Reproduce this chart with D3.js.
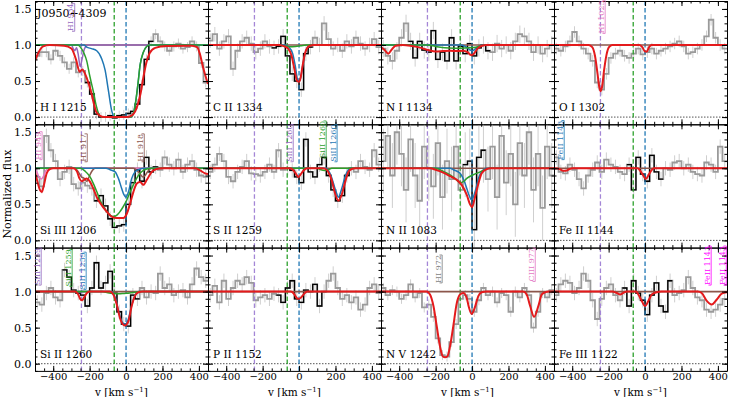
<!DOCTYPE html>
<html>
<head>
<meta charset="utf-8">
<script src="https://cdn.jsdelivr.net/npm/d3@7"></script>
<style>
  body { margin: 0; background: #fff; }
  svg { display: block; font-family: "DejaVu Serif", serif; }
</style>
</head>
<body>
<svg id="viz" width="729" height="397"></svg>
<script>
// DATA: velocity bin centres (km/s) shared by every panel
var velGrid = [-487.5, -462.5, -437.5, -412.5, -387.5, -362.5, -337.5, -312.5, -287.5, -262.5,
    -237.5, -212.5, -187.5, -162.5, -137.5, -112.5, -87.5, -62.5, -37.5, -12.5,
    12.5, 37.5, 62.5, 87.5, 112.5, 137.5, 162.5, 187.5, 212.5, 237.5,
    262.5, 287.5, 312.5, 337.5, 362.5, 387.5, 412.5, 437.5];
var binHalf = 12.5;

var ionLabels = ["H I 1215", "C II 1334", "N I 1134", "O I 1302",
    "Si III 1206", "S II 1259", "N II 1083", "Fe II 1144",
    "Si II 1260", "P II 1152", "N V 1242", "Fe III 1122"];

var xMajor = [-400, -200, 0, 200, 400];
var yMajor = [0, 0.5, 1.0, 1.5];

// component velocities (dashed markers)
var compVel = [-245, -65, 0];

// normalized flux per panel
var fluxHI1215 = [0.85,0.9,0.9,0.8,0.92,0.85,0.76,0.67,0.76,0.62, 0.64,0.48,0.32,0.04,0.0,0.0,0.02,-0.01,0.02,0.03,
    0.05,0.08,0.18,0.45,0.8,1.05,1.15,1.05,0.98,0.92, 0.98,1.02,0.95,0.97,1.05,0.98,0.75,0.48];
var fluxCII1334 = [1.06,1.15,0.95,1.05,1.12,0.67,0.92,1.05,1.1,1.02, 0.9,0.95,1.05,0.98,0.96,0.98,1.12,0.85,0.6,0.5,
    0.38,0.88,0.97,1.1,1.0,1.3,1.08,0.95,1.0,0.92, 1.05,0.98,1.1,1.02,0.95,1.0,1.08,0.97];
var fluxNI1134 = [0.95,0.85,0.78,0.92,1.1,1.3,1.05,0.82,1.05,0.93, 0.9,1.2,0.8,0.9,0.78,1.1,0.78,0.98,0.88,1.02,
    0.85,0.96,1.0,0.92,0.9,1.02,0.95,1.0,0.92,1.05, 1.15,1.12,1.05,0.9,1.0,0.88,0.95,1.0];
var fluxOI1302 = [0.95,0.92,0.98,1.05,1.18,1.05,0.95,0.88,0.78,0.48, 0.38,0.6,0.82,0.88,0.92,0.85,0.82,0.88,0.95,0.87,
    0.9,0.95,0.88,0.92,0.95,0.98,1.02,1.05,0.98,0.88, 0.9,0.95,1.0,1.12,1.35,1.1,1.0,0.95];
var fluxSiIII1206 = [0.88,0.75,1.45,1.25,1.1,0.85,0.95,1.02,0.78,0.72, 0.8,0.76,0.72,0.55,0.62,0.48,0.3,0.18,0.2,0.22,
    0.5,0.8,0.98,0.82,1.15,0.95,1.02,0.98,1.15,1.05, 1.0,1.12,0.95,1.05,1.1,0.98,0.9,0.88];
var fluxSII1259 = [0.95,1.05,1.2,1.1,0.88,0.82,0.95,1.02,1.1,0.93, 0.92,0.9,0.95,1.05,0.95,1.25,0.98,1.0,0.97,0.88,
    0.8,1.4,0.95,0.88,1.05,1.15,0.9,0.7,0.55,0.62, 0.9,1.0,0.95,1.1,1.02,0.98,1.25,1.05];
var fluxNII1083 = [1.1,1.45,0.9,1.5,1.2,0.7,1.4,0.9,0.55,1.3, 1.0,0.75,1.35,0.6,1.1,0.85,1.3,0.7,1.05,1.1,
    0.15,1.15,1.25,0.85,1.3,0.6,1.45,0.8,1.2,0.5, 1.35,0.9,1.5,0.7,1.2,0.45,1.3,0.9];
var fluxFeII1144 = [1.15,0.95,0.93,1.05,0.98,0.85,0.72,0.9,0.98,1.08, 0.95,1.12,1.05,1.02,0.95,0.92,1.05,0.7,1.15,0.92,
    0.82,1.18,0.95,0.85,1.0,0.98,1.08,1.1,1.0,1.05, 0.95,0.92,0.9,1.08,1.05,0.95,1.3,1.1];
var fluxSiII1260 = [0.85,0.82,0.98,1.05,0.92,0.88,1.3,1.2,1.02,0.98, 0.95,0.8,1.05,1.4,1.05,1.12,1.28,0.98,0.72,0.55,
    0.52,0.95,0.9,1.05,0.92,1.0,0.98,1.25,1.05,1.1, 0.95,1.0,1.02,0.92,1.1,1.32,1.2,1.15];
var fluxPII1152 = [0.95,1.08,0.85,1.15,0.9,1.05,1.15,1.1,1.2,1.12, 0.88,0.92,0.95,0.9,0.97,0.95,0.85,1.05,1.15,0.9,
    0.85,1.02,1.0,1.1,0.8,1.0,1.15,1.25,1.05,0.9, 0.95,0.85,0.92,0.75,0.82,1.05,1.1,0.98];
var fluxNV1242 = [1.05,0.95,1.02,1.0,0.9,0.95,1.1,0.92,0.98,0.78, 0.82,0.65,0.35,0.12,0.1,0.3,0.55,0.9,0.95,0.9,
    0.72,0.88,1.05,0.95,1.0,0.85,0.98,0.95,0.72,1.0, 0.92,1.05,0.95,0.5,0.72,0.98,0.92,1.02];
var fluxFeIII1122 = [0.95,1.1,1.15,1.12,0.98,1.05,1.25,1.15,0.88,0.62, 0.9,1.05,1.1,0.95,0.88,1.05,0.8,1.15,0.98,0.88,
    0.68,0.95,1.12,0.8,0.72,1.15,0.95,0.98,1.02,1.2, 1.05,0.92,0.88,0.75,0.72,0.75,0.82,0.9];

// typical 1-sigma error per panel
var errLevel = [0.07, 0.1, 0.12, 0.08, 0.1, 0.1, 0.45, 0.1, 0.1, 0.1, 0.07, 0.1];
// velocity window fitted (drawn black), null = none
var fitWindow = [[-225, 150], [-150, 75], [-350, 100], null, [-175, 175], [-75, 300],
    [-50, 75], [-100, 100], [-350, 75], [-125, 150], null, [-125, 150]];

var redHI1215 = [[-500,0.78],[-480,0.9],[-455,0.98],[-420,1.0],[-340,0.99],[-300,0.95],[-275,0.8],[-255,0.63],[-240,0.66],[-225,0.6],[-210,0.5],[-195,0.38],[-180,0.22],[-165,0.08],[-145,0.02],[-120,0.0],[0,0.0],[30,0.02],[50,0.08],[65,0.18],[80,0.33],[95,0.55],[112,0.76],[130,0.89],[160,0.96],[220,0.985],[360,0.99],[390,0.97],[405,0.88],[420,0.72],[435,0.58],[450,0.46]];
var redCII1334 = [[-500,1],[-110,1],[-80,0.98],[-60,0.95],[-42,0.86],[-25,0.66],[-10,0.5],[0,0.49],[8,0.54],[20,0.72],[32,0.88],[45,0.96],[60,0.99],[80,1],[450,1]];
var redNI1134 = [[-500,0.97],[-480,0.93],[-460,0.88],[-443,0.93],[-420,0.99],[-380,1],[-330,0.985],[-280,0.96],[-240,0.93],[-200,0.91],[-160,0.915],[-120,0.92],[-80,0.915],[-50,0.92],[-25,0.9],[-5,0.86],[10,0.88],[30,0.95],[55,0.99],[80,1],[450,1]];
var redOI1302 = [[-500,1],[-310,1],[-290,0.97],[-275,0.85],[-262,0.62],[-250,0.4],[-244,0.36],[-236,0.42],[-225,0.65],[-212,0.86],[-198,0.97],[-180,1],[-30,1],[-15,0.97],[0,0.91],[10,0.91],[22,0.97],[35,1],[450,1]];
var redSiIII1206 = [[-500,0.95],[-485,0.8],[-473,0.7],[-463,0.67],[-450,0.78],[-436,0.93],[-418,0.99],[-400,1],[-290,1],[-270,0.96],[-256,0.86],[-244,0.82],[-230,0.84],[-216,0.86],[-202,0.83],[-189,0.77],[-175,0.69],[-161,0.6],[-134,0.49],[-106,0.4],[-79,0.33],[-51,0.31],[-15,0.31],[4,0.37],[22,0.51],[40,0.67],[59,0.79],[77,0.81],[95,0.77],[114,0.84],[141,0.95],[168,0.99],[200,1],[380,1],[407,0.97],[434,0.93],[450,0.92]];
var redSII1259 = [[-500,1],[-50,1],[-30,0.97],[-16,0.92],[-4,0.88],[10,0.92],[25,0.97],[45,1],[130,1],[152,0.98],[168,0.91],[179,0.84],[198,0.65],[216,0.55],[234,0.63],[253,0.81],[271,0.95],[289,0.99],[310,1],[450,1]];
var redNII1083 = [[-500,1],[-230,1],[-200,0.98],[-158,0.94],[-120,0.89],[-84,0.84],[-57,0.77],[-29,0.63],[-11,0.5],[0,0.46],[16,0.6],[35,0.79],[53,0.93],[81,0.99],[100,1],[450,1]];
var redFeII1144 = [[-500,1],[-470,0.99],[-450,0.965],[-435,0.965],[-415,0.99],[-395,1],[-40,1],[-25,0.96],[-10,0.9],[4,0.85],[18,0.9],[32,0.96],[48,1],[450,1]];
var redSiII1260 = [[-500,1],[-280,1],[-265,0.97],[-252,0.9],[-242,0.88],[-230,0.92],[-215,0.98],[-200,1],[-90,1],[-70,0.96],[-51,0.82],[-33,0.63],[-15,0.54],[-5,0.53],[5,0.55],[13,0.59],[31,0.8],[49,0.94],[68,0.99],[90,1],[450,1]];
var redPII1152 = [[-500,1],[-45,1],[-28,0.97],[-12,0.91],[0,0.9],[12,0.92],[28,0.97],[45,1],[450,1]];
var redNV1242 = [[-500,1],[-250,1],[-231,0.96],[-212,0.8],[-194,0.52],[-176,0.24],[-160,0.1],[-148,0.09],[-136,0.1],[-121,0.24],[-103,0.52],[-84,0.84],[-66,0.96],[-48,0.98],[-29,0.91],[-18,0.79],[-2,0.69],[14,0.77],[35,0.94],[53,0.99],[80,1],[280,1],[300,0.96],[319,0.8],[341,0.65],[364,0.8],[383,0.96],[401,0.99],[420,1],[450,1]];
var redFeIII1122 = [[-500,1],[-180,1],[-155,0.98],[-137,0.96],[-120,0.98],[-100,1],[-50,1],[-37,0.96],[-18,0.87],[0,0.8],[18,0.87],[37,0.96],[64,0.99],[90,1],[290,1],[311,0.98],[339,0.87],[366,0.82],[394,0.89],[421,0.97],[450,0.99]];

// individual components
var greenHI1215 = [[-500,1],[-265,1],[-245,0.95],[-230,0.88],[-216,0.78],[-200,0.58],[-180,0.36],[-162,0.14],[-145,0.02],[-130,0],[25,0],[40,0.05],[55,0.25],[65,0.45],[77,0.72],[95,0.9],[113,0.98],[130,1],[450,1]];
var blueHI1215 = [[-500,1],[-230,1],[-216,0.97],[-190,0.95],[-161,0.92],[-134,0.81],[-115,0.65],[-97,0.37],[-79,0.09],[-62,0],[25,0],[40,0.05],[55,0.25],[65,0.45],[77,0.72],[95,0.9],[113,0.98],[130,1],[450,1]];
var purpleHI1215 = [[-500,1],[-300,1],[-290,0.95],[-282,0.92],[-272,0.96],[-262,0.86],[-252,0.7],[-242,0.8],[-228,0.95],[-210,1],[450,1]];
var greenCII1334 = [[-500,1],[-120,1],[-80,0.985],[-50,0.975],[-20,0.98],[10,0.99],[40,1],[450,1]];
var blueCII1334 = [[-500,1],[-80,1],[-55,0.97],[-35,0.88],[-20,0.7],[-8,0.52],[2,0.5],[10,0.56],[22,0.74],[34,0.89],[48,0.97],[65,1],[450,1]];
var greenNI1134 = [[-500,1],[-250,1],[-200,0.98],[-150,0.96],[-100,0.955],[-60,0.955],[-20,0.96],[20,0.97],[50,0.99],[80,1],[450,1]];
var blueNI1134 = [[-500,1],[-60,1],[-30,0.97],[-10,0.93],[2,0.92],[15,0.94],[35,0.98],[60,1],[450,1]];
var greenSiIII1206 = [[-500,1],[-250,1],[-225,0.96],[-200,0.89],[-180,0.79],[-160,0.67],[-143,0.56],[-125,0.47],[-106,0.4],[-88,0.35],[-70,0.33],[-50,0.35],[-33,0.4],[-15,0.47],[4,0.56],[22,0.67],[40,0.77],[58,0.86],[77,0.93],[95,0.97],[114,0.99],[140,1],[450,1]];
var blueSiIII1206 = [[-500,1],[-110,1],[-88,0.98],[-60,0.95],[-42,0.86],[-24,0.72],[-11,0.63],[0,0.6],[13,0.67],[31,0.86],[49,0.95],[77,0.99],[100,1],[450,1]];
var pinkSiIII1206 = [[-500,0.99],[-490,0.95],[-478,0.88],[-465,0.85],[-452,0.9],[-440,0.97],[-425,1],[450,1]];
var brownSiIII1206 = [[-500,1],[-280,1],[-262,0.95],[-245,0.88],[-230,0.86],[-216,0.82],[-200,0.9],[-185,0.97],[-170,1],[40,1],[60,0.97],[77,0.92],[92,0.88],[105,0.9],[120,0.96],[140,1],[450,1]];
var greenSII1259 = [[-500,1],[100,1],[120,0.98],[140,0.97],[160,0.98],[180,1],[450,1]];
var blueSII1259 = [[-500,1],[150,1],[175,0.9],[200,0.7],[216,0.6],[232,0.7],[255,0.9],[280,1],[450,1]];
var greenNII1083 = [[-500,1],[-200,1],[-160,0.96],[-121,0.91],[-90,0.85],[-66,0.8],[-45,0.82],[-29,0.86],[7,0.91],[44,0.95],[81,0.99],[100,1],[450,1]];
var blueNII1083 = [[-500,1],[-120,1],[-103,0.98],[-66,0.93],[-38,0.79],[-20,0.65],[-2,0.56],[16,0.67],[35,0.86],[62,0.98],[80,1],[450,1]];
var greenSiII1260 = [[-500,1],[-130,1],[-100,0.985],[-70,0.975],[-40,0.97],[-10,0.975],[20,0.98],[50,0.99],[80,1],[450,1]];
var blueSiII1260 = [[-500,1],[-80,1],[-60,0.92],[-40,0.72],[-20,0.57],[-5,0.55],[10,0.6],[30,0.8],[50,0.95],[70,1],[450,1]];

// rotated line-ID labels: [panel, v, flux at base, text, colour]
var lineIds = [
    [0, -305, 1.19, "HI 934", "#9467bd"],
    [3, -242, 1.16, "HI 1025", "#e377c2"],
    [4, -484, 1.12, "HI 949", "#e377c2"],
    [4, -236, 1.09, "HI 917", "#8c564b"],
    [4, 77, 1.09, "HI 918", "#8c564b"],
    [5, -55, 1.09, "SiII 1260", "#9467bd"],
    [5, 126, 1.14, "SiII 1260", "#2ca02c"],
    [5, 186, 1.09, "SiII 1260", "#1f77b4"],
    [7, -467, 1.12, "FeII 1143", "#1f77b4"],
    [8, -489, 1.09, "SiII 1259", "#9467bd"],
    [8, -319, 1.07, "SiII 1259", "#2ca02c"],
    [8, -242, 1.03, "SiII 1259", "#1f77b4"],
    [10, -187, 1.12, "HI 972", "#7f7f7f"],
    [10, 324, 1.14, "CIII 977", "#e377c2"],
    [11, 340, 1.09, "FeII 1143", "#ff00ff"],
    [11, 423, 1.09, "FeII 1143", "#ff00ff"]
];

(function () {
    'use strict';
    var svg = d3.select("#viz");
    var margin = { left: 35, top: 1 };
    var colW = 173, rowH = 123.3;
    var fluxes = [fluxHI1215, fluxCII1334, fluxNI1134, fluxOI1302, fluxSiIII1206, fluxSII1259,
        fluxNII1083, fluxFeII1144, fluxSiII1260, fluxPII1152, fluxNV1242, fluxFeIII1122];
    var reds = [redHI1215, redCII1334, redNI1134, redOI1302, redSiIII1206, redSII1259,
        redNII1083, redFeII1144, redSiII1260, redPII1152, redNV1242, redFeIII1122];
    // extra component curves, drawn under the red total
    var comps = [
        { p: 0, pts: purpleHI1215, c: "#9467bd" }, { p: 0, pts: blueHI1215, c: "#1f77b4" }, { p: 0, pts: greenHI1215, c: "#2ca02c" },
        { p: 1, pts: blueCII1334, c: "#1f77b4" }, { p: 1, pts: greenCII1334, c: "#2ca02c" },
        { p: 2, pts: blueNI1134, c: "#1f77b4" }, { p: 2, pts: greenNI1134, c: "#2ca02c" },
        { p: 4, pts: pinkSiIII1206, c: "#e377c2" }, { p: 4, pts: brownSiIII1206, c: "#8c564b" },
        { p: 4, pts: blueSiIII1206, c: "#1f77b4" }, { p: 4, pts: greenSiIII1206, c: "#2ca02c" },
        { p: 5, pts: blueSII1259, c: "#1f77b4" }, { p: 5, pts: greenSII1259, c: "#2ca02c" },
        { p: 6, pts: blueNII1083, c: "#1f77b4" }, { p: 6, pts: greenNII1083, c: "#2ca02c" },
        { p: 8, pts: blueSiII1260, c: "#1f77b4" }, { p: 8, pts: greenSiII1260, c: "#2ca02c" }
    ];
    var dashColors = ["#a486d6", "#2ca02c", "#1f77b4"];

    var x = d3.scaleLinear().domain([-500, 450]).range([0, colW]);
    var y = d3.scaleLinear().domain([-0.1, 1.61]).range([rowH, 0]);
    var xMinor = d3.range(-500, 451, 50);
    var yMinor = d3.range(-0.1, 1.61, 0.1);
    var fmtY = d3.format(".1f"), fmtX = d3.format("d");

    var stepLine = d3.line().x(function (d) { return x(d[0]); }).y(function (d) { return y(d[1]); })
        .curve(d3.curveStepAfter);
    var smooth = d3.line().x(function (d) { return x(d[0]); }).y(function (d) { return y(d[1]); })
        .curve(d3.curveMonotoneX);

    function stepPoints(idx, f) {
        var pts = idx.map(function (k) { return [velGrid[k] - binHalf, f[k]]; });
        var last = idx[idx.length - 1];
        pts.push([velGrid[last] + binHalf, f[last]]);
        return pts;
    }

    fluxes.forEach(function (f, i) {
        var col = i % 4, row = Math.floor(i / 4);
        var g = svg.append("g")
            .attr("transform", "translate(" + (margin.left + col * colW) + "," + (margin.top + row * rowH) + ")");
        g.append("clipPath").attr("id", "clip" + i)
            .append("rect").attr("width", colW).attr("height", rowH);
        var inner = g.append("g").attr("clip-path", "url(#clip" + i + ")");

        //ERROR BARS
        inner.selectAll(".err").data(velGrid).enter().append("line")
            .attr("x1", function (v) { return x(v); }).attr("x2", function (v) { return x(v); })
            .attr("y1", function (v, k) { return y(f[k] - errLevel[i]); })
            .attr("y2", function (v, k) { return y(f[k] + errLevel[i]); })
            .attr("stroke", "#cfcfcf").attr("stroke-width", 1);

        //DATA STEP
        var all = d3.range(velGrid.length);
        inner.append("path").attr("d", stepLine(stepPoints(all, f)))
            .attr("fill", "none").attr("stroke", "#9a9a9a").attr("stroke-width", 1.8);
        if (fitWindow[i]) {
            var win = fitWindow[i];
            var idx = all.filter(function (k) { return velGrid[k] > win[0] && velGrid[k] < win[1]; });
            inner.append("path").attr("d", stepLine(stepPoints(idx, f)))
                .attr("fill", "none").attr("stroke", "#000").attr("stroke-width", 1.3);
        }

        // zero level
        inner.append("line").attr("x1", 0).attr("x2", colW).attr("y1", y(0)).attr("y2", y(0))
            .attr("stroke", "#555").attr("stroke-width", 1).attr("stroke-dasharray", "1.5,1.5");

        // component markers
        compVel.forEach(function (v, j) {
            inner.append("line").attr("x1", x(v)).attr("x2", x(v)).attr("y1", 0).attr("y2", rowH)
                .attr("stroke", dashColors[j]).attr("stroke-width", 1.3).attr("stroke-dasharray", "4.5,2.5");
        });

        // continuum
        inner.append("line").attr("x1", 0).attr("x2", colW).attr("y1", y(1)).attr("y2", y(1))
            .attr("stroke", "#8c564b").attr("stroke-width", 1.6);

        comps.filter(function (c) { return c.p === i; }).forEach(function (c) {
            inner.append("path").attr("d", smooth(c.pts)).attr("fill", "none")
                .attr("stroke", c.c).attr("stroke-width", 1.5);
        });
        inner.append("path").attr("d", smooth(reds[i])).attr("fill", "none")
            .attr("stroke", "#e41a1c").attr("stroke-width", 2);

        //AXES (ticks inside, all four sides)
        var axes = [
            { a: d3.axisBottom(x), t: "translate(0," + rowH + ")", maj: xMajor, min: xMinor, lab: row === 2, fmt: fmtX, pad: 2.5, fs: 10 },
            { a: d3.axisTop(x), t: "translate(0,0)", maj: xMajor, min: xMinor, lab: false },
            { a: d3.axisLeft(y), t: "translate(0,0)", maj: yMajor, min: yMinor, lab: col === 0, fmt: fmtY, pad: 3.5, fs: 11 },
            { a: d3.axisRight(y), t: "translate(" + colW + ",0)", maj: yMajor, min: yMinor, lab: false }
        ];
        axes.forEach(function (ax) {
            var gmin = g.append("g").attr("transform", ax.t)
                .call(ax.a.tickValues(ax.min).tickSize(-2.5).tickSizeOuter(0).tickFormat(""));
            gmin.select(".domain").remove();
            var gmaj = g.append("g").attr("transform", ax.t)
                .call(ax.a.tickValues(ax.maj).tickSize(-5).tickSizeOuter(0).tickPadding(ax.pad || 3)
                    .tickFormat(ax.lab ? ax.fmt : ""));
            gmaj.attr("font-family", null).attr("font-size", ax.fs || 10);
            gmaj.selectAll("text").attr("fill", "#000");
            gmaj.select(".domain").attr("stroke", "#000").attr("stroke-width", 1);
        });

        g.append("text").attr("x", 5).attr("y", y(0.085))
            .attr("font-size", 10.5).text(ionLabels[i]);
        if (i === 0) {
            g.append("text").attr("x", 2).attr("y", 16).attr("font-size", 11).text("J0950+4309");
        }
        if (row === 2) {
            var xl = svg.append("text").attr("x", margin.left + col * colW + colW / 2).attr("y", 395.5)
                .attr("text-anchor", "middle").attr("font-size", 10.5);
            xl.append("tspan").text("v [km s");
            xl.append("tspan").attr("font-size", 7).attr("dy", -3.5).text("\u22121");
            xl.append("tspan").attr("dy", 3.5).text("]");
        }
    });

    // line identifications
    lineIds.forEach(function (d) {
        var col = d[0] % 4, row = Math.floor(d[0] / 4);
        var gx = margin.left + col * colW + x(d[1]);
        var gy = margin.top + row * rowH + y(d[2]);
        var t = svg.append("text").attr("transform", "translate(" + (gx + 2.8) + "," + gy + ") rotate(-90)")
            .attr("font-size", 8).attr("fill", d[4]).text(d[3]);
        var L = t.node().getComputedTextLength();
        svg.append("path")
            .attr("d", "M" + (gx + 1.5) + "," + gy + "H" + (gx + 4.2) + "V" + (gy - L) + "H" + (gx + 1.5))
            .attr("fill", "none").attr("stroke", d[4]).attr("stroke-width", 0.8);
    });

    svg.append("text").attr("transform", "translate(11,194) rotate(-90)")
        .attr("text-anchor", "middle").attr("font-size", 11).text("Normalized flux");
}());
</script>
</body>
</html>
